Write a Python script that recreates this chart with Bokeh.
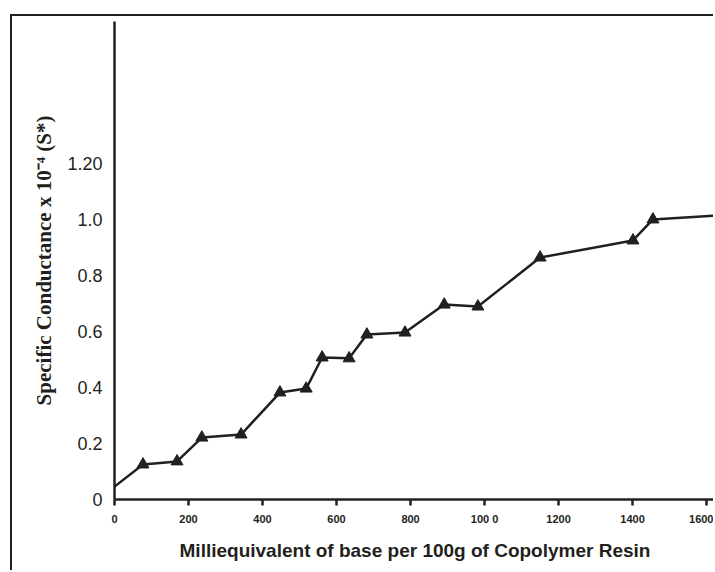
from bokeh.plotting import figure
from bokeh.embed import file_html
from bokeh.resources import INLINE
from bokeh.models import FixedTicker

# data
meq = [0, 77, 169, 236, 342, 447, 518, 561, 634, 682, 785, 891, 982, 1150, 1401, 1455, 1623]
conductance = [0.046, 0.125, 0.136, 0.221, 0.232, 0.382, 0.396, 0.507, 0.504, 0.589,
               0.596, 0.696, 0.689, 0.864, 0.925, 1.0, 1.014]
marked = list(range(1, 16))  # indices drawn with triangle markers

x_ticks = [0, 200, 400, 600, 800, 1000, 1200, 1400, 1600]
x_tick_labels = ["0", "200", "400", "600", "800", "100 0", "1200", "1400", "1600"]
y_ticks = [0, 0.2, 0.4, 0.6, 0.8, 1.0, 1.2]
y_tick_labels = ["0", "0.2", "0.4", "0.6", "0.8", "1.0", "1.20"]

INK = "#231f20"

p = figure(width=703, height=556, x_range=(0, 1624), y_range=(0, 1.707),
           output_backend="svg", toolbar_location=None,
           min_border_left=102, min_border_right=0, min_border_top=5, min_border_bottom=73)
# outer box of the page (only its top and left edges fall inside the window)
p.styles = {"border-top": "2px solid #231f20", "border-left": "2px solid #231f20",
            "margin-top": "14px", "margin-left": "10px"}

p.grid.visible = False
p.outline_line_color = None
p.background_fill_color = "white"
p.border_fill_color = "white"

p.line(meq, conductance, line_color=INK, line_width=2.5)
p.scatter([meq[i] for i in marked], [conductance[i] for i in marked],
          marker="triangle", size=12, fill_color=INK, line_color=INK)

xa = p.xaxis[0]
xa.ticker = FixedTicker(ticks=x_ticks)
xa.major_label_overrides = {t: l for t, l in zip(x_ticks, x_tick_labels)}
xa.axis_line_color = INK
xa.axis_line_width = 2.5
xa.major_tick_line_color = INK
xa.major_tick_line_width = 2.5
xa.major_tick_out = 6
xa.major_tick_in = 0
xa.minor_tick_line_color = None
xa.major_label_text_font = "Liberation Sans"
xa.major_label_text_font_style = "bold"
xa.major_label_text_font_size = "11px"
xa.major_label_text_color = INK
xa.major_label_standoff = 7
xa.axis_label = "Milliequivalent of base per 100g of Copolymer Resin"
xa.axis_label_text_font = "Liberation Sans"
xa.axis_label_text_font_style = "bold"
xa.axis_label_text_font_size = "19px"
xa.axis_label_text_color = INK
xa.axis_label_standoff = 12

ya = p.yaxis[0]
ya.ticker = FixedTicker(ticks=y_ticks)
ya.major_label_overrides = {t: l for t, l in zip(y_ticks, y_tick_labels)}
ya.axis_line_color = INK
ya.axis_line_width = 2.5
ya.major_tick_line_color = None
ya.major_tick_out = 0
ya.major_tick_in = 0
ya.minor_tick_line_color = None
ya.major_label_text_font = "Liberation Sans"
ya.major_label_text_font_size = "18px"
ya.major_label_text_color = INK
ya.major_label_standoff = 12
ya.axis_label = "Specific Conductance x 10\u207b\u2074 (S*)"
ya.axis_label_text_font = "Liberation Serif"
ya.axis_label_text_font_style = "bold"
ya.axis_label_text_font_size = "21px"
ya.axis_label_text_color = INK
ya.axis_label_standoff = 8

open("out.html", "w").write(file_html(p, INLINE))
